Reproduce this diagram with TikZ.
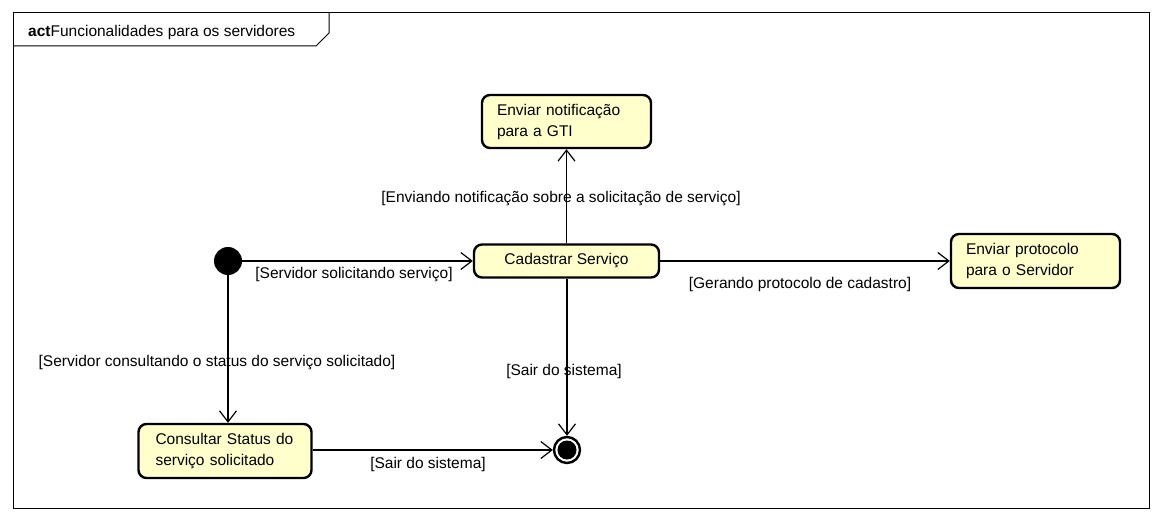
\documentclass[tikz,border=0pt]{standalone}
\usepackage{fontspec}
\setmainfont{Liberation Sans}
\usetikzlibrary{arrows.meta,calc}
\definecolor{actfill}{HTML}{FFFFCC}
\tikzset{
  act/.style={draw, line width=2.4pt, rounded corners=8pt, fill=actfill, font=\fontsize{15.5}{21}\selectfont, inner ysep=0pt},
  actl/.style={act, align=left, inner xsep=15pt},
  flow/.style={line width=1.2pt, -{Straight Barb[length=11pt,width=17pt,line width=1.2pt]}},
  lbl/.style={font=\fontsize{15.5}{19}\selectfont, inner sep=0pt},
  frameline/.style={line width=1pt}
}
\begin{document}
\begin{tikzpicture}[x=1pt,y=-1pt]
\useasboundingbox (0,0) rectangle (1164,521);
\fill[white] (0,0) rectangle (1164,521);
% frame
\draw[frameline] (13,13) rectangle (1149,508);
\draw[frameline] (13,46) -- (316,46) -- (329,33) -- (329,13);
\node[lbl, anchor=base west] (title) at (28,37) {\textbf{act}Funcionalidades para os servidores};
% nodes
\node[actl, text width=139pt, minimum height=53pt] (notif) at (566.5,121.5) {Enviar notificação\\para a GTI};
\node[act, minimum width=185pt, minimum height=33pt, inner xsep=0pt] (cad) at (566.5,261) {Cadastrar Serviço};
\node[actl, text width=139pt, minimum height=54pt] (prot) at (1035.5,261) {Enviar protocolo\\para o Servidor};
\node[actl, text width=139pt, inner xsep=17pt, minimum height=54pt] (cons) at (225,451) {Consultar Status do\\serviço solicitado};
\node[circle, fill=black, minimum size=28pt, inner sep=0pt] (init) at (228,261) {};
\node[circle, draw=black, line width=2.4pt, fill=white, minimum size=26pt, inner sep=0pt] (final) at (567,450) {};
\node[circle, fill=black, minimum size=19pt, inner sep=0pt] (finalin) at (567,450) {};
% edges
\draw[flow] (init) -- (cad.west);
\draw[flow] (cad.north) -- (notif.south);
\draw[flow] (cad.east) -- (prot.west);
\draw[flow] (init) -- (init |- cons.north);
\draw[flow] (cad.south -| final) -- (final.north);
\draw[flow] (cons.east |- final) -- (final.west);
% labels
\node[lbl] (l1) at (354,275) {[Servidor solicitando serviço]};
\node[lbl] (l2) at (561,199) {[Enviando notificação sobre a solicitação de serviço]};
\node[lbl] (l3) at (800,284) {[Gerando protocolo de cadastro]};
\node[lbl] (l4) at (217,363) {[Servidor consultando o status do serviço solicitado]};
\node[lbl] (l5) at (564,371) {[Sair do sistema]};
\node[lbl] (l6) at (428,464) {[Sair do sistema]};
\end{tikzpicture}
\end{document}
